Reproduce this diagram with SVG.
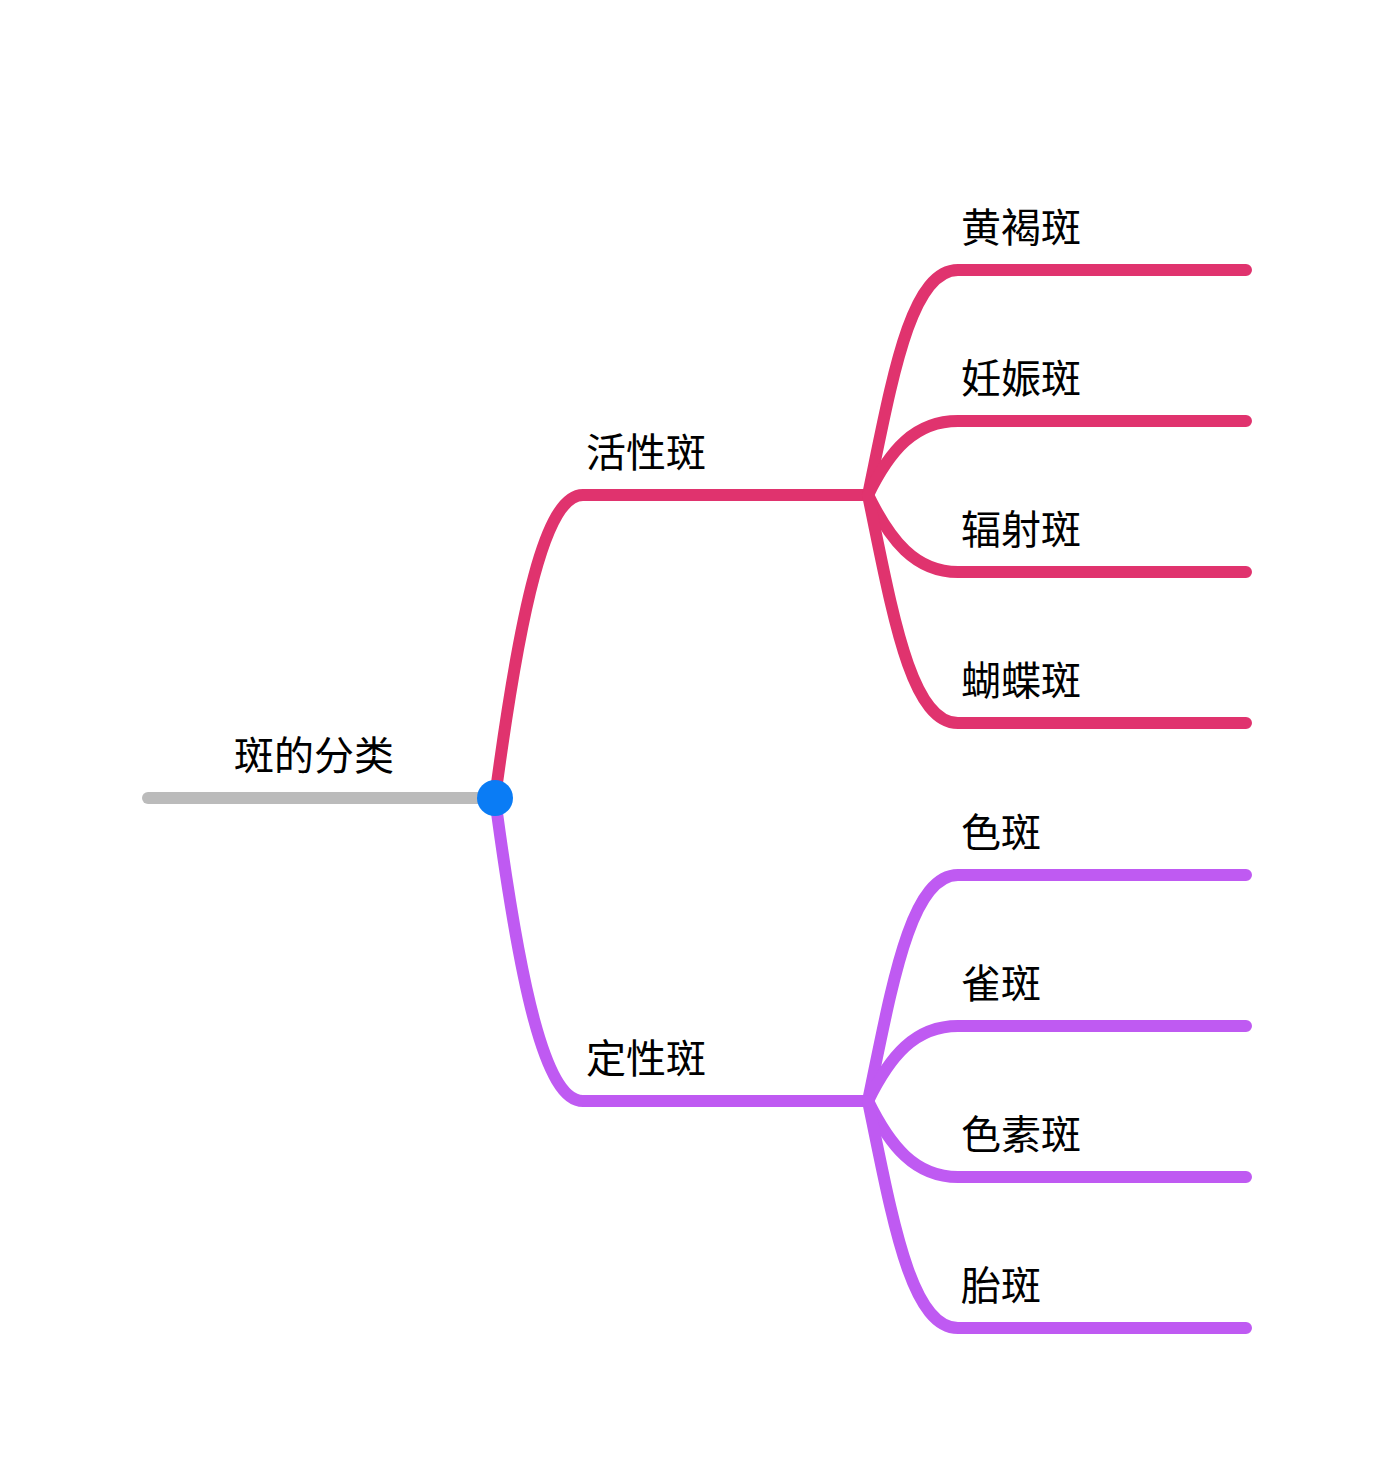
<svg xmlns="http://www.w3.org/2000/svg" width="1395" height="1478" viewBox="0 0 1395 1478">
<style>
.l{fill:none;stroke-width:12;stroke-linecap:round;stroke-linejoin:round}
.p{stroke:#e0336e}.v{stroke:#bf5af2}
text{font-family:"Liberation Sans","Noto Sans CJK SC",sans-serif;font-size:40px;fill:#000}
</style>
<rect width="1395" height="1478" fill="#fff"/>
<g id="connectors">
<path class="l" stroke="#bbbbbb" d="M148,798H495"/>
<path class="l p" d="M495,798C520,610 545,495 583,495H868"/>
<path class="l p" d="M868,495C892,380 910,270 958,270H1246"/>
<path class="l p" d="M868,495C890,450 915,421 958,421H1246"/>
<path class="l p" d="M868,495C890,540 915,572 958,572H1246"/>
<path class="l p" d="M868,495C892,610 910,723 958,723H1246"/>
<path class="l v" d="M495,798C520,986 545,1101 583,1101H868"/>
<path class="l v" d="M868,1101C892,986 910,875 958,875H1246"/>
<path class="l v" d="M868,1101C890,1056 915,1026 958,1026H1246"/>
<path class="l v" d="M868,1101C890,1146 915,1177 958,1177H1246"/>
<path class="l v" d="M868,1101C892,1216 910,1328 958,1328H1246"/>
</g>
<g id="root"><text x="234" y="770">斑的分类</text><circle cx="495" cy="798" r="18" fill="#0a7cf5"/></g>
<g id="n1"><text x="586" y="467">活性斑</text></g>
<g id="n2"><text x="586" y="1073">定性斑</text></g>
<g id="n11"><text x="961" y="242">黄褐斑</text></g>
<g id="n12"><text x="961" y="393">妊娠斑</text></g>
<g id="n13"><text x="961" y="544">辐射斑</text></g>
<g id="n14"><text x="961" y="695">蝴蝶斑</text></g>
<g id="n21"><text x="961" y="847">色斑</text></g>
<g id="n22"><text x="961" y="998">雀斑</text></g>
<g id="n23"><text x="961" y="1149">色素斑</text></g>
<g id="n24"><text x="961" y="1300">胎斑</text></g>
</svg>
